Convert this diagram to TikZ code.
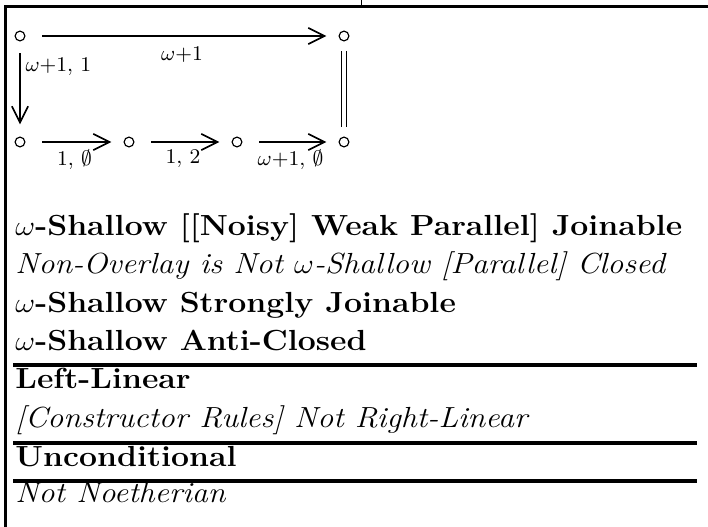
\documentclass[tikz,border=0pt]{standalone}
\usepackage{graphicx}
\usetikzlibrary{arrows.meta}

\tikzset{
	vertex/.style={circle, draw, line width=0.5pt, minimum size=4.2pt, inner sep=0pt},
	mor/.style={-{Straight Barb[length=7pt,width=7pt]}, line width=0.75pt, shorten <=7.3pt, shorten >=5.2pt},
	lbl/.style={font=\fontsize{9}{10}\selectfont, inner sep=0pt},
	row/.style={anchor=base west, inner sep=0pt, font=\fontsize{12.5}{14}\selectfont},
	rule/.style={line width=1.3pt}
}
\newcommand{\wide}[1]{\scalebox{1.10}[1]{#1}}

\begin{document}
\begin{tikzpicture}[x=0.43pt, y=-0.43pt]
				
				\useasboundingbox (0,0) rectangle (708,527);
				
				% frame of the cell
				\draw[line width=1.5pt] (5.5,527) -- (5.5,6.5) -- (708,6.5);
				\draw[line width=0.4pt] (361,0) -- (361,5);
				
				% the points of the diagram
				\node[vertex] (a) at (20,36) {};
				\node[vertex] (b) at (344,36) {};
				\node[vertex] (c) at (20,142) {};
				\node[vertex] (d) at (129,142) {};
				\node[vertex] (e) at (237,142) {};
				\node[vertex] (f) at (344,142) {};
				
				% top and left arrows
				\draw[mor] (a) -- node[lbl, midway, below=4.5pt] {$\omega{+}1$} (b);
				\draw[mor, shorten <=5pt] (a) -- node[lbl, pos=0.27, right=2pt] {$\omega{+}1$, $1$} (c);
				
				% bottom row
				\draw[mor] (c) -- node[lbl, midway, below=3pt] {$1$, $\emptyset$} (d);
				\draw[mor] (d) -- node[lbl, midway, below=3pt] {$1$, $2$} (e);
				\draw[mor] (e) -- node[lbl, midway, below=3pt] {$\omega{+}1$, $\emptyset$} (f);
				
				% equality on the right
				\draw[double, double distance=1.4pt, line width=0.5pt, shorten <=4.3pt, shorten >=4.3pt] (b) -- (f);
				
				% properties
				\node[row] (t1) at (15,235) {\wide{$\omega$\textbf{-Shallow [[Noisy] Weak Parallel] Joinable}}};
				\node[row] (t2) at (15,273) {\wide{\textit{Non-Overlay is Not $\omega$-Shallow [Parallel] Closed}}};
				\node[row] (t3) at (15,312) {\wide{$\omega$\textbf{-Shallow Strongly Joinable}}};
				\node[row] (t4) at (15,350) {\wide{$\omega$\textbf{-Shallow Anti-Closed}}};
				\draw[rule] (13,365) -- (697,365);
				\node[row] (t5) at (15,388) {\wide{\textbf{Left-Linear}}};
				\node[row] (t6) at (15,427) {\wide{\textit{[Constructor Rules] Not Right-Linear}}};
				\draw[rule] (13,443) -- (697,443);
				\node[row] (t7) at (15,466) {\wide{\textbf{Unconditional}}};
				\draw[rule] (13,481) -- (697,481);
				\node[row] (t8) at (15,502) {\wide{\textit{Not Noetherian}}};
				
\end{tikzpicture}
\end{document}
